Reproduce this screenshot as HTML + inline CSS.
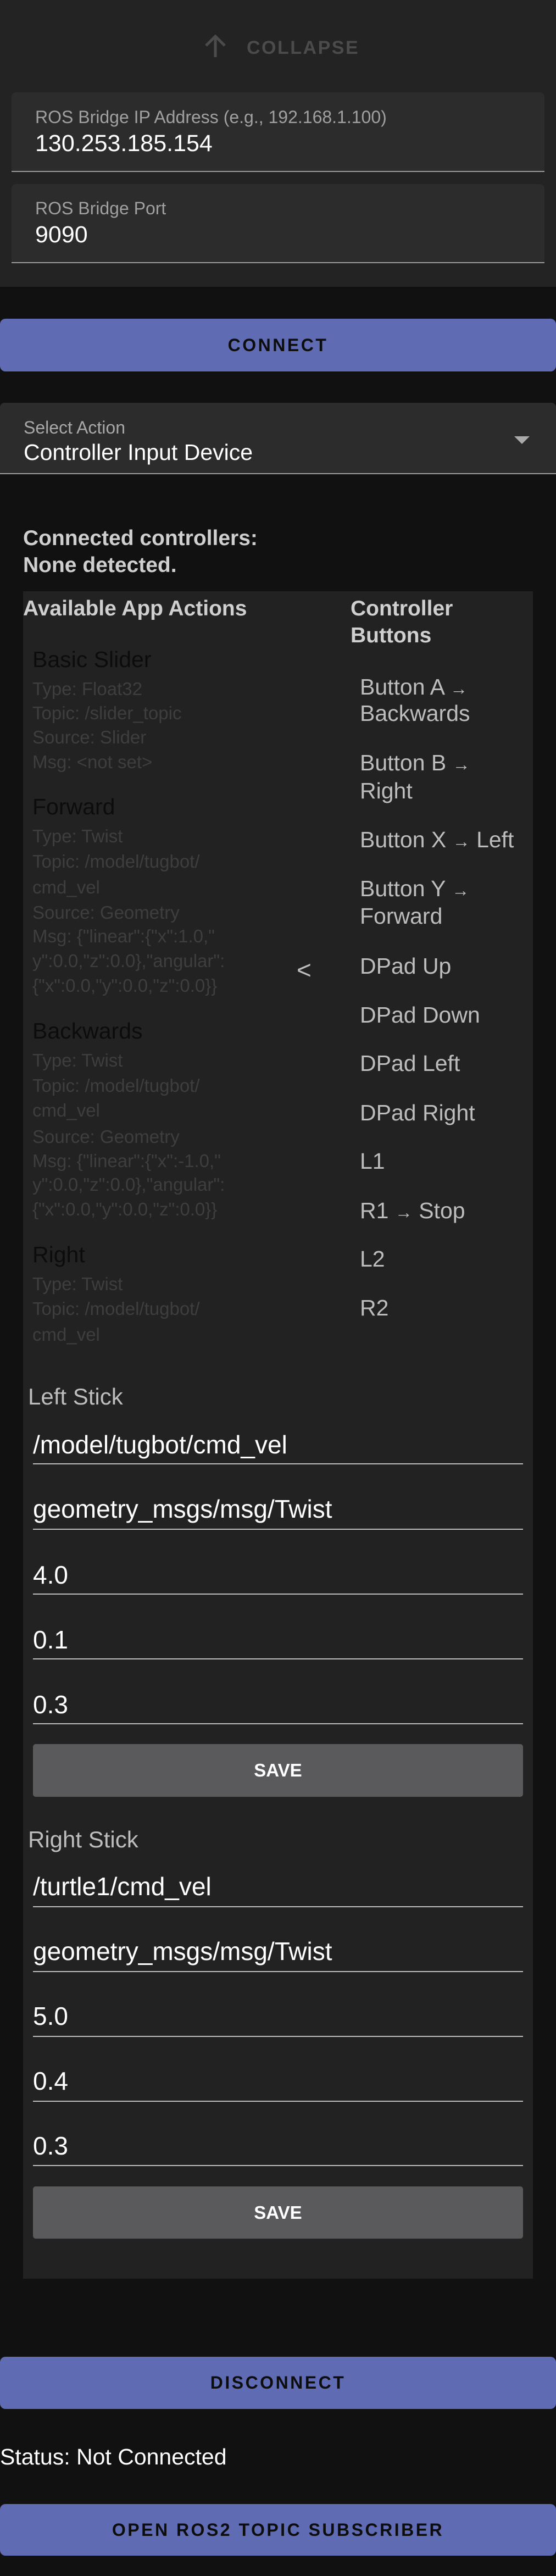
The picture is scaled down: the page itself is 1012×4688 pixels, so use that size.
<!DOCTYPE html>
<html><head><meta charset="utf-8"><style>
*{margin:0;padding:0;box-sizing:border-box}
body{width:1012px;height:4688px;background:#111;position:relative;overflow:hidden;font-family:"Liberation Sans",sans-serif}
.a{position:absolute;line-height:1;white-space:nowrap}
.fld{position:absolute;background:#2c2c2c;border-radius:8px 8px 0 0;border-bottom:2px solid #9a9a9a}
.btn{position:absolute;left:0;width:1012px;background:#5f6bb3;border-radius:10px;display:flex;align-items:center;justify-content:center;font-size:32px;letter-spacing:3.5px;color:#0d0d0d;font-weight:bold}
.t{color:#0c0c0c;font-size:41px}
.d{color:#3e3e3e;font-size:33px}
.r{color:#bdbdbd;font-size:41px}
.ar{font-size:32px}
.v{color:#fff;font-size:46px}
.ul{position:absolute;left:60px;width:892px;height:2px;background:#bdbdbd}
.save{position:absolute;left:60px;width:892px;background:#5a5a5c;border-radius:5px;display:flex;align-items:center;justify-content:center;color:#fff;font-weight:bold;font-size:33px}
</style></head><body>
<div style="position:absolute;left:0;top:0;width:1012px;height:522px;background:#232323"></div>
<svg style="position:absolute;left:371px;top:63px" width="42" height="42" viewBox="0 0 42 42"><path d="M21 41V4M4 20L21 3L38 20" stroke="#4b4b4b" stroke-width="5" fill="none"/></svg>
<div class="a" style="left:449px;top:70px;font-size:34px;letter-spacing:2.5px;color:#4b4b4b;font-weight:bold">COLLAPSE</div>
<div class="fld" style="left:21px;top:168px;width:970px;height:145px"></div>
<div class="a" style="left:64px;top:197px;font-size:32px;color:#a0a0a0">ROS Bridge IP Address (e.g., 192.168.1.100)</div>
<div class="a" style="left:64px;top:240px;font-size:43px;color:#fff">130.253.185.154</div>
<div class="fld" style="left:21px;top:335px;width:970px;height:144px"></div>
<div class="a" style="left:64px;top:363px;font-size:32px;color:#a0a0a0">ROS Bridge Port</div>
<div class="a" style="left:64px;top:406px;font-size:43px;color:#fff">9090</div>
<div class="btn" style="top:580px;height:96px">CONNECT</div>
<div class="fld" style="left:0;top:733px;width:1012px;height:130px"></div>
<div class="a" style="left:43px;top:762px;font-size:32px;color:#a8a8a8">Select Action</div>
<div class="a" style="left:43px;top:803px;font-size:41px;color:#fff">Controller Input Device</div>
<svg style="position:absolute;left:936px;top:794px" width="28" height="14"><path d="M0 0H28L14 14Z" fill="#aaa"/></svg>
<div class="a" style="left:42px;top:960px;font-size:39px;font-weight:bold;color:#cfcfcf">Connected controllers:</div>
<div class="a" style="left:42px;top:1009px;font-size:39px;font-weight:bold;color:#cfcfcf">None detected.</div>
<div style="position:absolute;left:42px;top:1076px;width:928px;height:3071px;background:#222"></div>
<div class="a" style="left:42px;top:1088px;font-size:39px;font-weight:bold;color:#cfcfcf">Available App Actions</div>
<div class="a" style="left:638px;top:1088px;font-size:39px;font-weight:bold;color:#cfcfcf">Controller</div>
<div class="a" style="left:638px;top:1137px;font-size:39px;font-weight:bold;color:#cfcfcf">Buttons</div>

<div class="a t" style="left:59px;top:1180px">Basic Slider</div>
<div class="a d" style="left:59px;top:1237px">Type: Float32</div>
<div class="a d" style="left:59px;top:1281px">Topic: /slider_topic</div>
<div class="a d" style="left:59px;top:1325px">Source: Slider</div>
<div class="a d" style="left:59px;top:1370px">Msg: &lt;not set&gt;</div>

<div class="a t" style="left:59px;top:1448px">Forward</div>
<div class="a d" style="left:59px;top:1505px">Type: Twist</div>
<div class="a d" style="left:59px;top:1551px">Topic: /model/tugbot/</div>
<div class="a d" style="left:59px;top:1598px">cmd_vel</div>
<div class="a d" style="left:59px;top:1644px">Source: Geometry</div>
<div class="a d" style="left:59px;top:1687px">Msg: {"linear":{"x":1.0,"</div>
<div class="a d" style="left:59px;top:1732px">y":0.0,"z":0.0},"angular":</div>
<div class="a d" style="left:59px;top:1777px">{"x":0.0,"y":0.0,"z":0.0}}</div>

<div class="a t" style="left:59px;top:1856px">Backwards</div>
<div class="a d" style="left:59px;top:1913px">Type: Twist</div>
<div class="a d" style="left:59px;top:1959px">Topic: /model/tugbot/</div>
<div class="a d" style="left:59px;top:2004px">cmd_vel</div>
<div class="a d" style="left:59px;top:2052px">Source: Geometry</div>
<div class="a d" style="left:59px;top:2096px">Msg: {"linear":{"x":-1.0,"</div>
<div class="a d" style="left:59px;top:2139px">y":0.0,"z":0.0},"angular":</div>
<div class="a d" style="left:59px;top:2184px">{"x":0.0,"y":0.0,"z":0.0}}</div>

<div class="a t" style="left:59px;top:2263px">Right</div>
<div class="a d" style="left:59px;top:2320px">Type: Twist</div>
<div class="a d" style="left:59px;top:2365px">Topic: /model/tugbot/</div>
<div class="a d" style="left:59px;top:2412px">cmd_vel</div>

<div class="a r" style="left:655px;top:1230px">Button A <span class="ar">→</span></div>
<div class="a r" style="left:655px;top:1278px">Backwards</div>
<div class="a r" style="left:655px;top:1368px">Button B <span class="ar">→</span></div>
<div class="a r" style="left:655px;top:1419px">Right</div>
<div class="a r" style="left:655px;top:1508px">Button X <span class="ar">→</span> Left</div>
<div class="a r" style="left:655px;top:1597px">Button Y <span class="ar">→</span></div>
<div class="a r" style="left:655px;top:1647px">Forward</div>
<div class="a r" style="left:655px;top:1738px">DPad Up</div>
<div class="a r" style="left:655px;top:1827px">DPad Down</div>
<div class="a r" style="left:655px;top:1915px">DPad Left</div>
<div class="a r" style="left:655px;top:2005px">DPad Right</div>
<div class="a r" style="left:655px;top:2093px">L1</div>
<div class="a r" style="left:655px;top:2183px">R1 <span class="ar">→</span> Stop</div>
<div class="a r" style="left:655px;top:2271px">L2</div>
<div class="a r" style="left:655px;top:2360px">R2</div>
<div class="a" style="left:540px;top:1742px;font-size:46px;color:#bdbdbd">&lt;</div>

<div class="a" style="left:51px;top:2521px;font-size:42px;color:#bdbdbd">Left Stick</div>
<div class="a v" style="left:60px;top:2606px">/model/tugbot/cmd_vel</div><div class="ul" style="top:2663px"></div>
<div class="a v" style="left:60px;top:2723px">geometry_msgs/msg/Twist</div><div class="ul" style="top:2782px"></div>
<div class="a v" style="left:60px;top:2843px">4.0</div><div class="ul" style="top:2900px"></div>
<div class="a v" style="left:60px;top:2961px">0.1</div><div class="ul" style="top:3018px"></div>
<div class="a v" style="left:60px;top:3079px">0.3</div><div class="ul" style="top:3136px"></div>
<div class="save" style="top:3174px;height:96px">SAVE</div>

<div class="a" style="left:51px;top:3327px;font-size:42px;color:#bdbdbd">Right Stick</div>
<div class="a v" style="left:60px;top:3410px">/turtle1/cmd_vel</div><div class="ul" style="top:3469px"></div>
<div class="a v" style="left:60px;top:3528px">geometry_msgs/msg/Twist</div><div class="ul" style="top:3587px"></div>
<div class="a v" style="left:60px;top:3646px">5.0</div><div class="ul" style="top:3705px"></div>
<div class="a v" style="left:60px;top:3764px">0.4</div><div class="ul" style="top:3823px"></div>
<div class="a v" style="left:60px;top:3882px">0.3</div><div class="ul" style="top:3940px"></div>
<div class="save" style="top:3979px;height:95px">SAVE</div>

<div class="btn" style="top:4289px;height:95px">DISCONNECT</div>
<div class="a" style="left:0;top:4451px;font-size:41px;color:#fff">Status: Not Connected</div>
<div class="btn" style="top:4557px;height:94px">OPEN ROS2 TOPIC SUBSCRIBER</div>
</body></html>
